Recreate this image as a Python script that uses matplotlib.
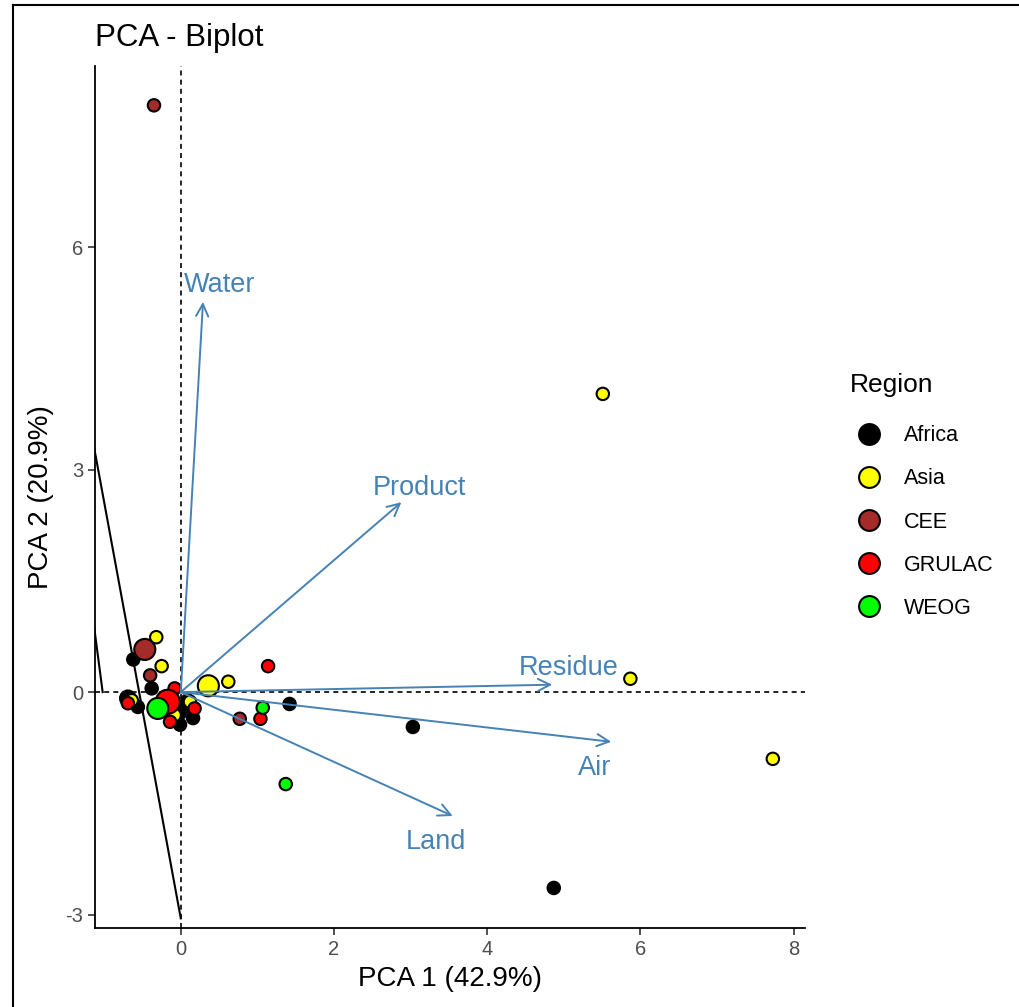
import numpy as np
import matplotlib
matplotlib.use("Agg")
import matplotlib.pyplot as plt
from matplotlib.lines import Line2D

plt.rcParams['font.family'] = ['Liberation Sans', 'DejaVu Sans']
plt.rcParams['axes.unicode_minus'] = False

# scores per region (PC1, PC2, point size)
africa_x = [4.87, 3.03, 1.42, -0.62, -0.38, -0.69, -0.56, -0.01, 0.05, 0.16, -0.04, 0.09]
africa_y = [-2.64, -0.47, -0.16, 0.44, 0.05, -0.085, -0.20, -0.44, -0.20, -0.35, -0.27, -0.11]
africa_s = [80, 80, 80, 80, 80, 130, 80, 80, 80, 80, 150, 80]

asia_x = [5.51, 5.87, 7.73, 0.36, 0.62, -0.32, -0.25, -0.64, 0.12, -0.08]
asia_y = [4.02, 0.18, -0.90, 0.085, 0.14, 0.74, 0.35, -0.11, -0.13, -0.31]
asia_s = [80, 80, 80, 230, 80, 80, 80, 80, 80, 80]

cee_x = [-0.35, -0.47, -0.40, 0.77]
cee_y = [7.91, 0.575, 0.225, -0.36]
cee_s = [80, 230, 80, 80]

grulac_x = [1.14, 1.04, -0.08, -0.17, 0.18, -0.14, -0.69]
grulac_y = [0.35, -0.36, 0.05, -0.13, -0.22, -0.40, -0.15]
grulac_s = [80, 80, 80, 300, 80, 80, 80]

weog_x = [1.37, 1.07, -0.30]
weog_y = [-1.24, -0.21, -0.22]
weog_s = [80, 80, 230]

regions = ['Africa', 'Asia', 'CEE', 'GRULAC', 'WEOG']
region_colors = ['black', 'yellow', '#A52A2A', 'red', '#00FF00']

# variable loadings (arrow tips) and label positions
var_names = ['Water', 'Product', 'Residue', 'Air', 'Land']
var_x = [0.29, 2.88, 4.85, 5.62, 3.55]
var_y = [5.26, 2.56, 0.10, -0.67, -1.67]
lab_x = [0.51, 3.12, 5.07, 5.40, 3.33]
lab_y = [5.49, 2.75, 0.32, -1.02, -2.02]

# black lines on the left
line1_x = [0.0, -1.2]
line1_y = [-3.05, 3.68]
line2_x = [-1.02, -1.2]
line2_y = [0.0, 1.42]

fig = plt.figure(figsize=(10.2, 10.07), dpi=100)
ax = fig.add_axes([95 / 1020, 1 - 928 / 1007, 710 / 1020, 862 / 1007])

ax.axhline(0, color='black', lw=1.2, dashes=(3, 2.5), zorder=1)
ax.axvline(0, color='black', lw=1.2, dashes=(3, 2.5), zorder=1)

ax.plot(line1_x, line1_y, color='black', lw=1.5, zorder=2)
ax.plot(line2_x, line2_y, color='black', lw=1.5, zorder=2)

groups = [(africa_x, africa_y, africa_s), (asia_x, asia_y, asia_s),
          (cee_x, cee_y, cee_s), (grulac_x, grulac_y, grulac_s),
          (weog_x, weog_y, weog_s)]
for (gx, gy, gs), col in zip(groups, region_colors):
    ax.scatter(gx, gy, s=gs, c=col, edgecolors='black', linewidths=1.5, zorder=3)

arrow_col = '#4682B4'
for name, vx, vy, lx, ly in zip(var_names, var_x, var_y, lab_x, lab_y):
    ax.annotate('', xy=(vx, vy), xytext=(0, 0),
                arrowprops=dict(arrowstyle='->', color=arrow_col, lw=1.4,
                                mutation_scale=22, shrinkA=0, shrinkB=0),
                zorder=4)
    ax.text(lx, ly, name, color=arrow_col, fontsize=19.5, ha='center', va='center', zorder=5)

ax.set_xlim(-1.12, 8.15)
ax.set_ylim(-3.18, 8.44)
ax.set_xticks([0, 2, 4, 6, 8])
ax.set_yticks([-3, 0, 3, 6])
ax.tick_params(labelsize=14.5, labelcolor='#4D4D4D', length=5, width=1.2, color='#333333')
ax.spines['top'].set_visible(False)
ax.spines['right'].set_visible(False)
ax.spines['left'].set_linewidth(1.3)
ax.spines['bottom'].set_linewidth(1.3)
ax.set_xlabel('PCA 1 (42.9%)', fontsize=20, labelpad=5)
ax.set_ylabel('PCA 2 (20.9%)', fontsize=20, labelpad=8)

fig.text(95 / 1020, 1 - 38 / 1007, 'PCA - Biplot', fontsize=22.5, ha='left', va='center')

# legend, title placed on its own
fig.text(850 / 1020, 1 - 385 / 1007, 'Region', fontsize=19, ha='left', va='center')
handles = [Line2D([], [], marker='o', ls='', markerfacecolor=c, markeredgecolor='black',
                  markersize=15, markeredgewidth=1.5) for c in region_colors]
leg = fig.legend(handles, regions, loc='upper left', bbox_to_anchor=(830 / 1020, 1 - 408 / 1007),
                 frameon=False, fontsize=15.5, labelspacing=1.03, handletextpad=0.65,
                 borderpad=0.3)

# frame around the whole figure
fig.add_artist(Line2D([13 / 1020, 13 / 1020], [0, 1 - 5 / 1007], color='black', lw=1.5,
                      transform=fig.transFigure))
fig.add_artist(Line2D([13 / 1020, 1], [1 - 5 / 1007, 1 - 5 / 1007], color='black', lw=1.5,
                      transform=fig.transFigure))

fig.savefig('out.png', dpi=100)
